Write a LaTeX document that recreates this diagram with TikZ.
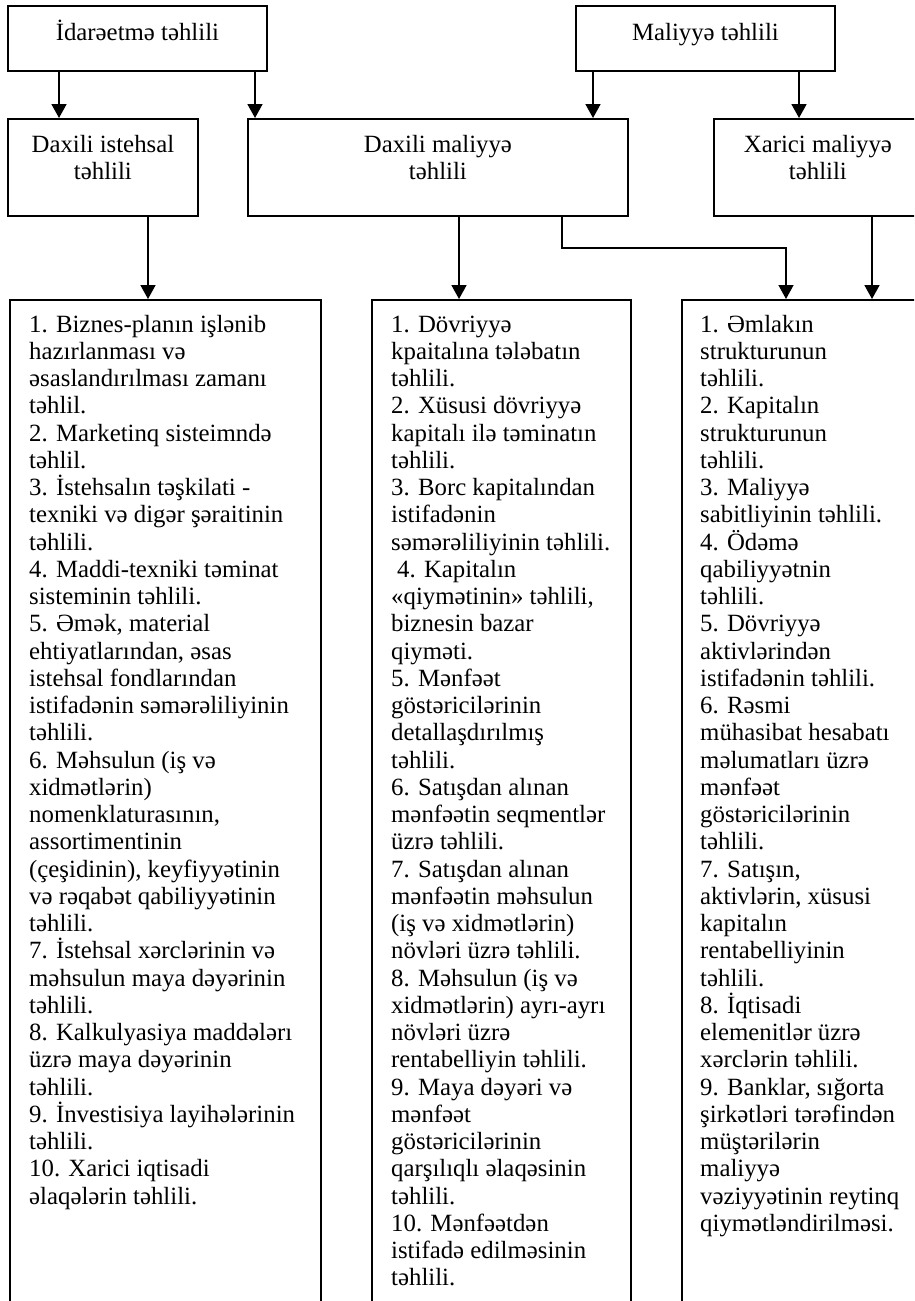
\documentclass[tikz,border=0pt]{standalone}
\usepackage{fontspec}
\setmainfont{Liberation Serif}
\usetikzlibrary{arrows.meta,calc}
\newcommand{\fls}{\rule{0pt}{23pt}}
\begin{document}
\begin{tikzpicture}[x=1pt,y=-1pt,
  box/.style={draw, line width=1.8pt, rectangle, inner sep=0pt, anchor=north west},
  txt/.style={inner sep=0pt, font=\fontsize{24.8}{27.25}\selectfont},
  arr/.style={line width=1.8pt, -{Triangle[width=15pt,length=14pt]}},
  thinarr/.style={line width=1.5pt, -{Triangle[width=15pt,length=14pt]}},
]
\useasboundingbox (0,0) rectangle (914,1301);
\clip (0,0) rectangle (914,1301);
% top level
\node[box, minimum width=259pt, minimum height=65pt] (idare) at (7,5) {};
\node[txt, anchor=base] (idareT) at ($(idare.north)+(0,35)$) {İdarəetmə təhlili};
\node[box, minimum width=259pt, minimum height=65pt] (mal) at (575,5) {};
\node[txt, anchor=base] (malT) at ($(mal.north)+(0,35)$) {Maliyyə təhlili};
% second level
\node[box, minimum width=190pt, minimum height=97pt] (dist) at (7,118) {};
\node[txt, align=center, anchor=north] (distT) at ($(dist.north)+(0,11)$) {\fls Daxili istehsal\\təhlili};
\node[box, minimum width=380pt, minimum height=97pt] (dmal) at (247,118) {};
\node[txt, align=center, anchor=north] (dmalT) at ($(dmal.north)+(0,11)$) {\fls Daxili maliyyə\\təhlili};
\node[box, minimum width=208pt, minimum height=97pt] (xmal) at (713,118) {};
\node[txt, align=center, anchor=north] (xmalT) at ($(xmal.north)+(0,11)$) {\fls Xarici maliyyə\\təhlili};
% lists
\node[box, minimum width=311pt, minimum height=1040pt] (lA) at (9,299) {};
\node[box, minimum width=259pt, minimum height=1040pt] (lB) at (371,299) {};
\node[box, minimum width=260pt, minimum height=1040pt] (lC) at (681,299) {};
\node[txt, align=left, anchor=north west] (lAT) at ($(lA.north west)+(20,10)$) {\fls 1. Biznes-planın işlənib\\
hazırlanması və\\
əsaslandırılması zamanı\\
təhlil.\\
2. Marketinq sisteimndə\\
təhlil.\\
3. İstehsalın təşkilati -\\
texniki və digər şəraitinin\\
təhlili.\\
4. Maddi-texniki təminat\\
sisteminin təhlili.\\
5. Əmək, material\\
ehtiyatlarından, əsas\\
istehsal fondlarından\\
istifadənin səmərəliliyinin\\
təhlili.\\
6. Məhsulun (iş və\\
xidmətlərin)\\
nomenklaturasının,\\
assortimentinin\\
(çeşidinin), keyfiyyətinin\\
və rəqabət qabiliyyətinin\\
təhlili.\\
7. İstehsal xərclərinin və\\
məhsulun maya dəyərinin\\
təhlili.\\
8. Kalkulyasiya maddələrı\\
üzrə maya dəyərinin\\
təhlili.\\
9. İnvestisiya layihələrinin\\
təhlili.\\
10. Xarici iqtisadi\\
əlaqələrin təhlili.};
\node[txt, align=left, anchor=north west] (lBT) at ($(lB.north west)+(20,10)$) {\fls 1. Dövriyyə\\
kpaitalına tələbatın\\
təhlili.\\
2. Xüsusi dövriyyə\\
kapitalı ilə təminatın\\
təhlili.\\
3. Borc kapitalından\\
istifadənin\\
səmərəliliyinin təhlili.\\
\hspace*{6pt}4. Kapitalın\\
«qiymətinin» təhlili,\\
biznesin bazar\\
qiyməti.\\
5. Mənfəət\\
göstəricilərinin\\
detallaşdırılmış\\
təhlili.\\
6. Satışdan alınan\\
mənfəətin seqmentlər\\
üzrə təhlili.\\
7. Satışdan alınan\\
mənfəətin məhsulun\\
(iş və xidmətlərin)\\
növləri üzrə təhlili.\\
8. Məhsulun (iş və\\
xidmətlərin) ayrı-ayrı\\
növləri üzrə\\
rentabelliyin təhlili.\\
9. Maya dəyəri və\\
mənfəət\\
göstəricilərinin\\
qarşılıqlı əlaqəsinin\\
təhlili.\\
10. Mənfəətdən\\
istifadə edilməsinin\\
təhlili.};
\node[txt, align=left, anchor=north west] (lCT) at ($(lC.north west)+(19,10)$) {\fls 1. Əmlakın\\
strukturunun\\
təhlili.\\
2. Kapitalın\\
strukturunun\\
təhlili.\\
3. Maliyyə\\
sabitliyinin təhlili.\\
4. Ödəmə\\
qabiliyyətnin\\
təhlili.\\
5. Dövriyyə\\
aktivlərindən\\
istifadənin təhlili.\\
6. Rəsmi\\
mühasibat hesabatı\\
məlumatları üzrə\\
mənfəət\\
göstəricilərinin\\
təhlili.\\
7. Satışın,\\
aktivlərin, xüsusi\\
kapitalın\\
rentabelliyinin\\
təhlili.\\
8. İqtisadi\\
elemenitlər üzrə\\
xərclərin təhlili.\\
9. Banklar, sığorta\\
şirkətləri tərəfindən\\
müştərilərin\\
maliyyə\\
vəziyyətinin reytinq\\
qiymətləndirilməsi.};
% connectors
\draw[arr] (idare.south -| 59,0) -- (dist.north -| 59,0);
\draw[arr] (idare.south -| 255,0) -- (dmal.north -| 255,0);
\draw[arr] (mal.south -| 593,0) -- (dmal.north -| 593,0);
\draw[arr] (mal.south -| 799,0) -- (xmal.north -| 799,0);
\draw[arr] (dist.south -| 148,0) -- (lA.north -| 148,0);
\draw[arr] (dmal.south -| 459,0) -- (lB.north -| 459,0);
\coordinate (elb) at (786,248);
\draw[thinarr] (dmal.south -| 562,0) |- (elb) -- (lC.north -| elb);
\draw[arr] (xmal.south -| 872,0) -- (lC.north -| 872,0);
\end{tikzpicture}
\end{document}
